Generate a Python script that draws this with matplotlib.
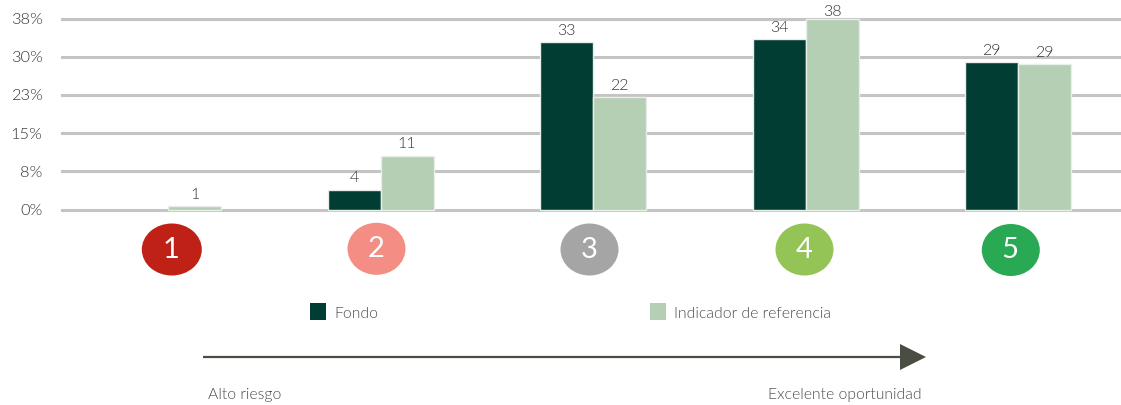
import matplotlib
matplotlib.use("Agg")
import matplotlib.pyplot as plt
from matplotlib import font_manager as fm
from matplotlib.patches import Ellipse, Rectangle, Polygon
import numpy as np

plt.rcParams['font.family'] = ['Lato', 'DejaVu Sans']

# the chart uses Lato Light, look for that exact file
light_files = [f.fname for f in fm.fontManager.ttflist
               if f.name == "Lato" and f.fname.endswith("Lato-Light.ttf")]
if light_files:
    FONT = fm.FontProperties(fname=light_files[0])
else:
    FONT = fm.FontProperties(family="Lato")

W, H = 1121, 405

# data
categories = ["1", "2", "3", "4", "5"]
fondo = [0, 3.9, 32.9, 33.5, 29.0]
indicador = [0.7, 10.6, 22.0, 37.5, 28.5]
fondo_labels = ["", "4", "33", "34", "29"]
indicador_labels = ["1", "11", "22", "38", "29"]
tick_values = [0, 7.5, 15, 22.5, 30, 37.5]
tick_labels = ["0%", "8%", "15%", "23%", "30%", "38%"]
badge_colors = ["#BF2116", "#F48D84", "#A5A5A5", "#94C356", "#2AA955"]
legend_labels = ["Fondo", "Indicador de referencia"]

DARK = "#023D33"
LIGHT = "#B4CFB3"
GRID = "#C4C4C4"
TEXT = "#333333"
SOFT = "#4A4A4A"


def font(size):
    fp = FONT.copy()
    fp.set_size(size)
    return fp


fig = plt.figure(figsize=(W / 100, H / 100), dpi=100, facecolor="white")

# chart area, from the pixel positions of the axis lines
top, bottom = 18.5, 209.5
ax = fig.add_axes([62 / W, 1 - bottom / H, (W - 62) / W, (bottom - top) / H])
step = 212.5
ax.set_xlim((62 - 168) / step, (W - 168) / step)
ax.set_ylim(0, 37.5)

x = np.arange(len(categories))
bw = 53 / step
bars_f = ax.bar(x - bw / 2, fondo, bw, color=DARK, edgecolor="#E8EEE8", linewidth=1, zorder=3, clip_on=False)
bars_i = ax.bar(x + bw / 2, indicador, bw, color=LIGHT, edgecolor="#E8EEE8", linewidth=1, zorder=3, clip_on=False)
for b in bars_f:
    if b.get_height() == 0:
        b.set_visible(False)


def put_label(txt, xpos, val):
    # the tallest label is squeezed against the top of the plot
    off = 0 if val > 37 else 3
    ax.annotate(txt, (xpos, val), xytext=(0, off), textcoords="offset points",
                ha="center", va="bottom", color=TEXT, fontproperties=font(11.5), annotation_clip=False)


for i in range(len(categories)):
    if fondo_labels[i]:
        put_label(fondo_labels[i], x[i] - bw / 2, fondo[i])
    put_label(indicador_labels[i], x[i] + bw / 2, indicador[i])

ax.set_yticks(tick_values, tick_labels)
ax.set_xticks([])
ax.tick_params(axis="y", length=0, pad=14, labelcolor=TEXT)
for lab in ax.get_yticklabels():
    lab.set_fontproperties(font(11.8))
ax.grid(axis="y", color=GRID, linewidth=2.2, zorder=1)
ax.set_axisbelow(True)
for s in ax.spines.values():
    s.set_visible(False)
for line in ax.get_ygridlines():
    line.set_clip_on(False)

# overlay in pixel coordinates for the badges, legend and arrow
ov = fig.add_axes([0, 0, 1, 1], zorder=5)
ov.set_xlim(0, W)
ov.set_ylim(H, 0)
ov.axis("off")

badge_x = [172.3, 377, 590, 805, 1011.3]
badge_y = [249.5, 248.8, 249.5, 249.5, 250]
badge_w = [60, 58, 58, 58, 58]
for i, c in enumerate(categories):
    ov.add_patch(Ellipse((badge_x[i] - 0.5, badge_y[i]), badge_w[i], 52, facecolor=badge_colors[i], edgecolor="none"))
    ov.text(badge_x[i] - 1, badge_y[i] + 0.5, c, color="white", ha="center", va="center", fontsize=21, family="Lato")

ov.add_patch(Rectangle((309.5, 302.5), 16.5, 17, facecolor=DARK, edgecolor="none"))
ov.text(334, 313.5, legend_labels[0], color=SOFT, va="center", ha="left", fontproperties=font(11.3))
ov.add_patch(Rectangle((649.5, 302.5), 16.5, 17, facecolor=LIGHT, edgecolor="none"))
ov.text(674, 313.5, legend_labels[1], color=SOFT, va="center", ha="left", fontproperties=font(11.3))

ov.plot([203, 902], [357, 357], color="#4A4D42", linewidth=1.6, solid_capstyle="butt")
ov.add_patch(Polygon([(900, 344), (926, 357), (900, 370)], closed=True, facecolor="#4A4D42", edgecolor="none"))

ov.text(208, 395.5, "Alto riesgo", color=SOFT, va="center", ha="left", fontproperties=font(11.3))
ov.text(922, 395.5, "Excelente oportunidad", color=SOFT, va="center", ha="right", fontproperties=font(11.3))

fig.savefig("out.png", dpi=100)
